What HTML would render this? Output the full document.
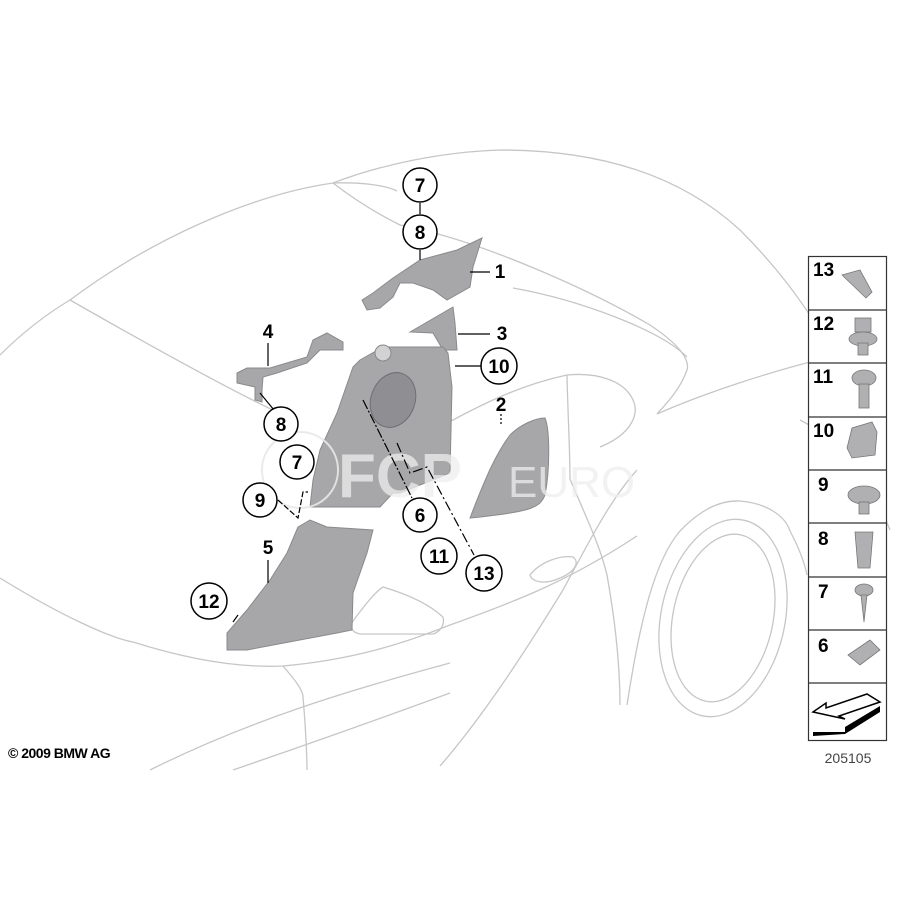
<!DOCTYPE html>
<html><head><meta charset="utf-8"><style>
html,body{margin:0;padding:0;background:#fff}
svg{display:block}
text{font-family:"Liberation Sans",Arial,sans-serif}
</style></head><body>
<svg width="900" height="900" viewBox="0 0 900 900" xmlns="http://www.w3.org/2000/svg">
<g fill="none" stroke="#c6c6c6" stroke-width="1.3">
<path d="M0 355 C25 330 50 312 70 300 C150 240 250 195 333 183 C380 165 440 152 500 150 C600 150 680 175 740 230 C780 270 800 300 820 330"/>
<path d="M333 183 C360 182 385 185 397 191"/>
<path d="M333 183 C355 200 380 215 400 225 C480 240 590 290 650 325 C680 345 690 360 687 370 C680 390 665 405 657 414 C700 395 760 375 810 362"/>
<path d="M513 288 C580 300 660 330 687 357"/>
<path d="M70 300 C140 340 220 385 277 412"/>
<path d="M0 578 C60 615 110 638 133 642 C190 660 240 668 283 666 C350 660 400 645 450 625 C520 600 570 580 637 536"/>
<path d="M283 666 C295 680 303 690 303 697 C306 730 307 760 307 770"/>
<path d="M150 770 C250 720 350 690 450 663"/>
<path d="M233 770 C320 740 390 715 450 693"/>
<path d="M353 621 C365 605 375 592 383 587 C410 595 430 605 443 617 C445 625 440 632 433 634 L360 634 C350 632 350 625 353 621 Z"/>
<path d="M440 427 C480 405 520 385 567 375 C600 372 625 382 633 400 C640 415 630 435 600 447"/>
<path d="M567 375 C568 420 570 450 570 479 C585 515 600 545 607 575 C615 620 620 665 620 705"/>
<path d="M440 766 C480 720 520 660 563 590 C590 540 610 500 637 470"/>
<path d="M530 575 C540 562 560 555 573 557 C580 562 575 572 560 578 C545 585 532 582 530 575 Z"/>
<path d="M627 705 C640 620 655 560 680 531 C700 510 720 500 740 501 C765 503 785 515 790 531 C800 550 805 565 807 575"/>
<ellipse cx="723" cy="618" rx="62" ry="100" transform="rotate(12 723 618)"/>
<ellipse cx="723" cy="618" rx="50" ry="85" transform="rotate(12 723 618)"/>
<path d="M800 420 C840 440 870 480 890 530"/>
</g>
<g fill="#a7a7aa" stroke="#8a8a8d" stroke-width="1">
<path d="M393 278 L420 260 L457 250 L482 238 L473 267 L470 287 L447 300 L433 290 L413 283 L400 283 L393 297 L380 308 L367 310 L362 300 L373 293 Z"/>
<path d="M410 332 L453 307 L455 323 L457 350 L443 350 L433 333 Z"/>
<path d="M360 360 L383 347 L427 347 L443 347 L448 353 L452 387 L450 473 L400 493 L393 493 L380 507 L310 507 L313 480 L320 450 L337 413 L353 367 Z"/>
<path d="M237 373 L247 368 L270 368 L307 357 L313 340 L327 333 L343 342 L343 350 L320 350 L307 363 L277 373 L263 377 L262 390 L262 402 L255 400 L255 387 L237 383 Z"/>
<path d="M298 527 L310 520 L327 527 L373 530 L367 553 L353 593 L352 630 L337 633 L247 650 L227 650 L227 633 L247 610 L270 580 L287 553 Z"/>
<path d="M475 505 C485 480 495 455 510 435 C520 425 535 418 545 418 C550 430 550 470 545 495 C540 508 530 512 470 518 Z"/>
</g>
<circle cx="383" cy="353" r="8" fill="#d2d2d5" stroke="#888"/>
<ellipse cx="393" cy="400" rx="22" ry="28" transform="rotate(20 393 400)" fill="#8f8f93" stroke="#6f6f72"/>
<g fill="none" stroke="#e8e8e8" stroke-width="2" opacity="0.9">
<circle cx="300" cy="470" r="38"/>
</g>
<text x="338" y="497" font-size="62" fill="#ededed" fill-opacity="0.75" font-weight="bold">FCP</text>
<text x="508" y="497" font-size="44" fill="#ededed" fill-opacity="0.75">EURO</text>
<g stroke="#000" stroke-width="1.2" fill="none">
<line x1="420" y1="203" x2="420" y2="214"/>
<line x1="420" y1="250" x2="420" y2="260"/>
<line x1="470" y1="272" x2="490" y2="272"/>
<line x1="458" y1="334" x2="490" y2="334"/>
<line x1="455" y1="366" x2="481" y2="366"/>
<line x1="268" y1="343" x2="268" y2="366"/>
<line x1="260" y1="393" x2="274" y2="410"/>
<line x1="268" y1="560" x2="268" y2="583"/>
<path d="M278 500 L298 518 L303 492 L308 492" stroke-dasharray="6,2"/>
<line x1="233" y1="622" x2="238" y2="615"/>
<line x1="363" y1="400" x2="412" y2="498" stroke-dasharray="10,2,2,2"/>
<path d="M397 443 L410 473 L427 467 L474 555" stroke-dasharray="10,3,2,3"/>
<line x1="501" y1="414" x2="501" y2="424" stroke-dasharray="2,2"/>
</g>
<g fill="#fff" stroke="#000" stroke-width="1.5">
<circle cx="420" cy="185" r="17"/><circle cx="420" cy="232" r="17"/>
<circle cx="499" cy="366" r="18"/><circle cx="281" cy="424" r="17"/>
<circle cx="297" cy="462" r="17"/><circle cx="260" cy="500" r="17"/>
<circle cx="420" cy="515" r="17"/><circle cx="439" cy="556" r="18"/>
<circle cx="484" cy="573" r="18"/><circle cx="209" cy="601" r="18"/>
</g>
<g font-size="19" font-weight="bold" text-anchor="middle" fill="#000">
<text x="420" y="192">7</text><text x="420" y="239">8</text>
<text x="499" y="373">10</text><text x="281" y="431">8</text>
<text x="297" y="469">7</text><text x="260" y="507">9</text>
<text x="420" y="522">6</text><text x="439" y="563">11</text>
<text x="484" y="580">13</text><text x="209" y="608">12</text>
<text x="500" y="278">1</text><text x="502" y="340">3</text>
<text x="501" y="411">2</text><text x="268" y="338">4</text>
<text x="268" y="554">5</text>
</g>
<rect x="808.5" y="256.5" width="78" height="484" fill="#fff" stroke="#333" stroke-width="1.2"/>
<g stroke="#333" stroke-width="1.2">
<line x1="808" y1="310" x2="887" y2="310"/><line x1="808" y1="363" x2="887" y2="363"/>
<line x1="808" y1="417" x2="887" y2="417"/><line x1="808" y1="470" x2="887" y2="470"/>
<line x1="808" y1="523" x2="887" y2="523"/><line x1="808" y1="577" x2="887" y2="577"/>
<line x1="808" y1="630" x2="887" y2="630"/><line x1="808" y1="683" x2="887" y2="683"/>
</g>
<g font-size="19" font-weight="bold" fill="#000">
<text x="813" y="276">13</text><text x="813" y="330">12</text>
<text x="813" y="383">11</text><text x="813" y="437">10</text>
<text x="818" y="491">9</text><text x="818" y="545">8</text>
<text x="818" y="598">7</text><text x="818" y="652">6</text>
</g>
<g fill="#b0b0b3" stroke="#777" stroke-width="0.8">
<path d="M842 275 L860 270 L872 292 L866 298 Z"/>
<rect x="855" y="318" width="16" height="14"/><ellipse cx="863" cy="339" rx="14" ry="7"/><rect x="858" y="343" width="10" height="12"/>
<ellipse cx="864" cy="378" rx="12" ry="8"/><rect x="859" y="384" width="10" height="24"/>
<path d="M847 448 L852 428 L872 422 L877 432 L875 455 L852 458 Z"/>
<ellipse cx="864" cy="495" rx="16" ry="9"/><rect x="859" y="502" width="10" height="12"/>
<path d="M855 532 L873 532 L870 568 L858 568 Z"/>
<ellipse cx="864" cy="590" rx="9" ry="6"/><path d="M861 595 L867 595 L864 622 Z"/>
<path d="M848 655 L870 640 L880 650 L860 665 Z"/>
</g>
<path d="M813 712 L826 703 L826 708 L867 694 L880 702 L839 716 L845 719 Z" fill="#fff" stroke="#000" stroke-width="1.5"/>
<path d="M813 732 L845 732 L845 727 L880 706 L880 712 L845 734 L813 736 Z" fill="#000"/>
<text x="848" y="763" font-size="14" text-anchor="middle" fill="#444">205105</text>
<text x="8" y="758" font-size="14" font-weight="bold" fill="#000" letter-spacing="-0.5">© 2009 BMW AG</text>
</svg>
</body></html>
